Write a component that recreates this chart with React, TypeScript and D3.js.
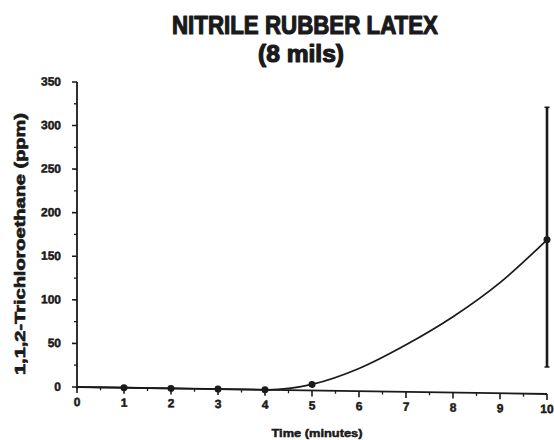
import React from "react";
import * as d3 from "d3";

const timeTicks = [0, 1, 2, 3, 4, 5, 6, 7, 8, 9, 10];
const ppmTicks = [0, 50, 100, 150, 200, 250, 300, 350];
const curveTimes = [0, 1, 2, 3, 4, 5, 6, 7, 8, 9, 10];
const curveValues = [0, 0, 0, 0, 0, 7, 26, 54, 87, 127, 177];
const markerTimes = [1, 2, 3, 4, 5, 10];
const markerValues = [0, 0, 0, 0, 7, 177];
const errTime = [10];
const errLow = [31];
const errHigh = [329];

const W = 554;
const H = 440;
const ink = "#1a1a1a";
const font = "'Liberation Sans', Arial, sans-serif";

export default function App() {
  const x = d3.scaleLinear().domain([0, 10]).range([77, 547]);
  const y = d3.scaleLinear().domain([0, 350]).range([387, 82]);
  const skew = (Math.atan(7 / 470) * 180) / Math.PI;
  const line = d3
    .line<number>()
    .x((_, i) => x(curveTimes[i]))
    .y((d) => y(d))
    .curve(d3.curveMonotoneX);
  const minorY = d3.range(0, 351, 25).filter((v) => v % 50 !== 0);
  const minorX = d3.range(0.5, 10, 1);
  const heavy = { stroke: ink, strokeWidth: 0.7, strokeLinejoin: "round" as const };

  return (
    <svg width={W} height={H} style={{ position: "absolute", left: 0, top: 0, background: "#fff" }}>
      <text x={305} y={34} textAnchor="middle" fontFamily={font} fontWeight="bold" fontSize={26}
        textLength={266} lengthAdjust="spacingAndGlyphs" fill={ink} {...heavy} strokeWidth={1.2}>NITRILE RUBBER LATEX</text>
      <text x={301} y={62} textAnchor="middle" fontFamily={font} fontWeight="bold" fontSize={24}
        textLength={86} lengthAdjust="spacingAndGlyphs" fill={ink} {...heavy} strokeWidth={1.2}>(8 mils)</text>
      <text transform="translate(25,244) rotate(-90)" textAnchor="middle" fontFamily={font} fontWeight="bold"
        fontSize={15} textLength={262} lengthAdjust="spacingAndGlyphs" fill={ink} {...heavy}>1,1,2-Trichloroethane  (ppm)</text>

      <g transform={`translate(77,387) skewY(${skew}) translate(-77,-387)`}>
        {/* y axis */}
        <line x1={x(0)} x2={x(0)} y1={y(0) + 2} y2={y(350)} stroke={ink} strokeWidth={1.8} />
        {ppmTicks.map((v) => (
          <g key={"yt" + v}>
            <line x1={x(0) - 5} x2={x(0)} y1={y(v)} y2={y(v)} stroke={ink} strokeWidth={1.6} />
            <text x={61} y={y(v) + 4} textAnchor="end" fontFamily={font} fontWeight="bold" fontSize={12}
              fill={ink} {...heavy} strokeWidth={0.5}>{v}</text>
          </g>
        ))}
        {minorY.map((v) => (
          <line key={"ym" + v} x1={x(0) - 3} x2={x(0)} y1={y(v)} y2={y(v)} stroke={ink} strokeWidth={1.3} />
        ))}
        {/* x axis */}
        <line x1={x(0)} x2={x(10)} y1={y(0)} y2={y(0)} stroke={ink} strokeWidth={1.8} />
        {timeTicks.map((t) => (
          <g key={"xt" + t}>
            <line x1={x(t)} x2={x(t)} y1={y(0)} y2={y(0) + 6} stroke={ink} strokeWidth={1.6} />
            <text x={x(t)} y={y(0) + 19} textAnchor="middle" fontFamily={font} fontWeight="bold" fontSize={12}
              fill={ink} {...heavy} strokeWidth={0.5}>{t}</text>
          </g>
        ))}
        {minorX.map((t) => (
          <line key={"xm" + t} x1={x(t)} x2={x(t)} y1={y(0)} y2={y(0) + 3} stroke={ink} strokeWidth={1.3} />
        ))}
        {/* curve */}
        <path d={line(curveValues) || ""} fill="none" stroke={ink} strokeWidth={1.7} />
        {/* error bar */}
        {errTime.map((t, i) => (
          <g key={"e" + t}>
            <line x1={x(t)} x2={x(t)} y1={y(errLow[i])} y2={y(errHigh[i])} stroke={ink} strokeWidth={2.6} />
            <line x1={x(t) - 2.5} x2={x(t) + 2.5} y1={y(errLow[i])} y2={y(errLow[i])} stroke={ink} strokeWidth={1.6} />
            <line x1={x(t) - 2.5} x2={x(t) + 2.5} y1={y(errHigh[i])} y2={y(errHigh[i])} stroke={ink} strokeWidth={1.6} />
          </g>
        ))}
        {markerTimes.map((t, i) => (
          <circle key={"m" + t} cx={x(t)} cy={y(markerValues[i])} r={3.5} fill={ink} />
        ))}
      </g>

      <text x={317} y={437} textAnchor="middle" fontFamily={font} fontWeight="bold" fontSize={11}
        textLength={91} lengthAdjust="spacingAndGlyphs" fill={ink} {...heavy} strokeWidth={0.5}>Time (minutes)</text>
    </svg>
  );
}
